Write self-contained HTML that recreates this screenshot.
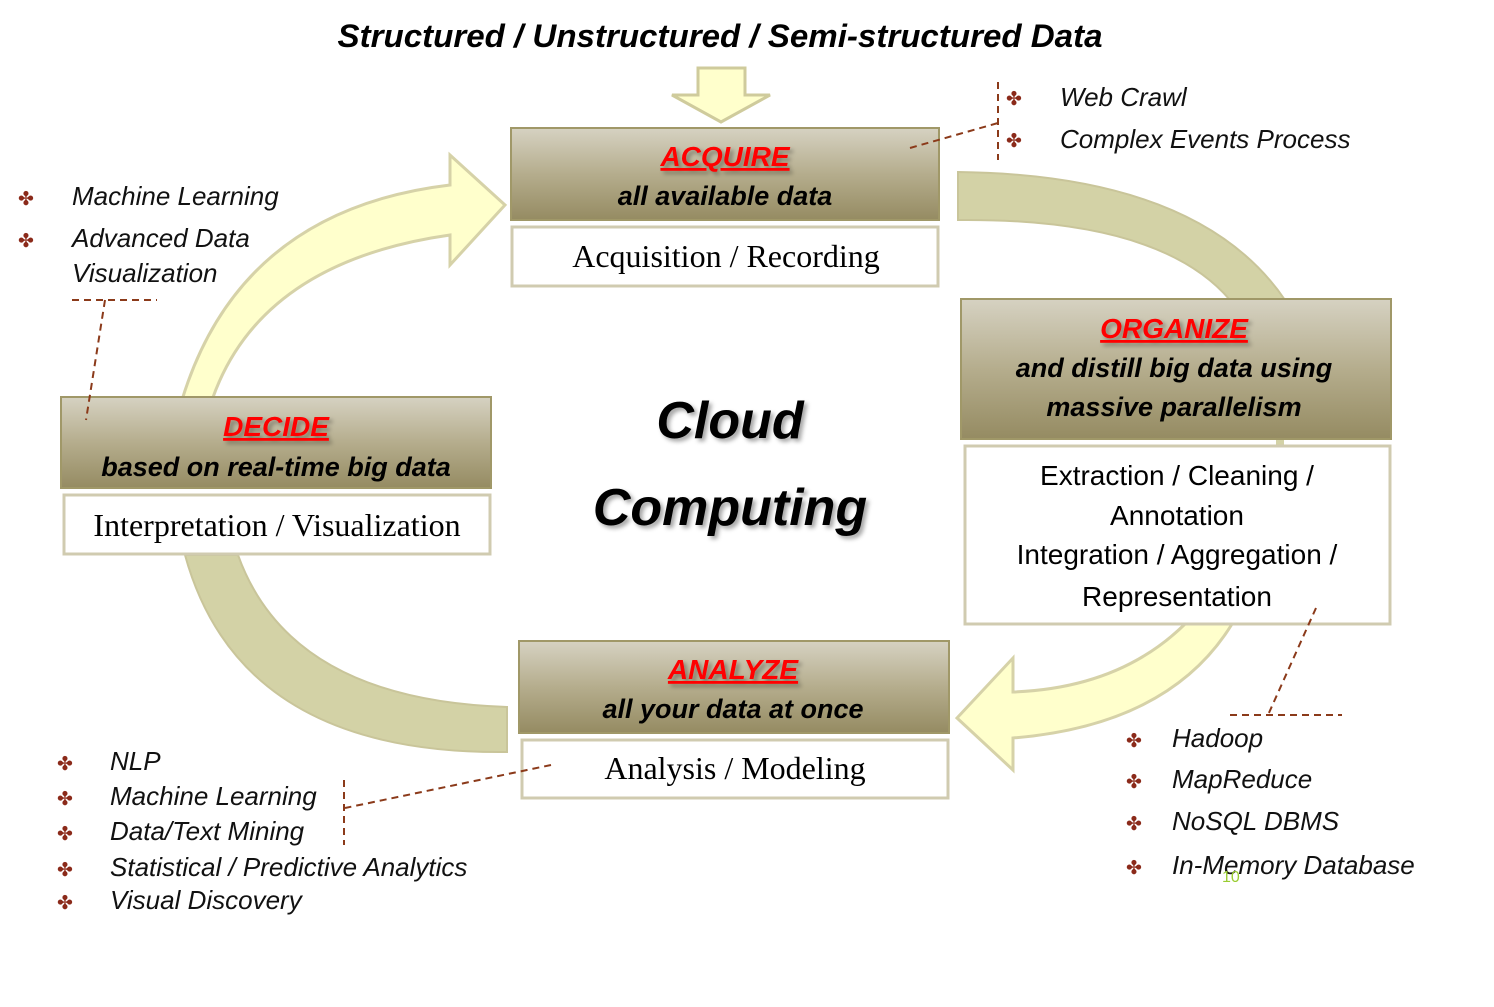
<!DOCTYPE html>
<html><head><meta charset="utf-8"><style>
html,body{margin:0;padding:0;background:#fff;}
svg{display:block;}
text{font-family:"Liberation Sans",sans-serif;}
.it{font-style:italic;font-size:26px;fill:#111;}
.hd{font-style:italic;font-weight:bold;font-size:27px;fill:#000;}
.red{font-style:italic;font-weight:bold;font-size:28px;fill:#ff0000;text-decoration:underline;}
.ser{font-family:"Liberation Serif",serif;font-size:32px;fill:#000;}
.cal{font-size:28px;fill:#000;}
.bul{font-size:19px;fill:#8b2a1a;}
.dash{stroke:#8b3a1a;stroke-width:2;stroke-dasharray:7,5;fill:none;}
</style></head><body>
<svg width="1494" height="1007" viewBox="0 0 1494 1007" xmlns="http://www.w3.org/2000/svg">
<defs>
<linearGradient id="g" x1="0" y1="0" x2="0" y2="1">
<stop offset="0" stop-color="#d6d2c2"/><stop offset="0.5" stop-color="#b5ad8d"/><stop offset="1" stop-color="#958b62"/>
</linearGradient>
<filter id="sh" x="-10%" y="-10%" width="130%" height="130%"><feDropShadow dx="3" dy="3" stdDeviation="2" flood-color="#000" flood-opacity="0.35"/></filter>
</defs>

<text x="720" y="47" text-anchor="middle" font-size="32" font-weight="bold" font-style="italic" textLength="765" lengthAdjust="spacingAndGlyphs">Structured  / Unstructured  / Semi-structured  Data</text>
<path d="M698,68 L745,68 L745,95 L770,95 L721,122 L672,95 L698,95 Z" fill="#ffffcc" stroke="#cfcb9c" stroke-width="3"/>

<path d="M958,172 Q1200,175 1285,300 L1230,300 Q1160,218 958,220 Z" fill="#d3d2a6" stroke="#c9c59a" stroke-width="2"/>
<path d="M185,555 Q240,755 507,752 L507,707 Q290,700 238,555 Z" fill="#d3d2a6" stroke="#c9c59a" stroke-width="2"/>
<path d="M182,400 Q240,210 450,185 L450,155 L505,205 L450,265 L450,235 Q260,262 212,400 Z" fill="#ffffcc" stroke="#d6d2a8" stroke-width="3"/>
<path d="M1185,624 Q1120,688 1013,692 L1013,658 L957,718 L1013,770 L1013,738 Q1170,725 1232,624 Z" fill="#ffffcc" stroke="#d6d2a8" stroke-width="3"/>
<rect x="1276" y="436" width="8" height="12" fill="#d3d2a6"/>

<rect x="511" y="128" width="428" height="92" fill="url(#g)" stroke="#a09868" stroke-width="2"/>
<text x="725" y="166" text-anchor="middle" class="red" filter="url(#sh)">ACQUIRE</text>
<text x="725" y="205" text-anchor="middle" class="hd">all available data</text>
<rect x="512" y="227" width="426" height="59" fill="#fff" stroke="#d0cbb0" stroke-width="3"/>
<text x="726" y="267" text-anchor="middle" class="ser">Acquisition  / Recording</text>

<rect x="961" y="299" width="430" height="140" fill="url(#g)" stroke="#a09868" stroke-width="2"/>
<text x="1174" y="338" text-anchor="middle" class="red" filter="url(#sh)">ORGANIZE</text>
<text x="1174" y="377" text-anchor="middle" class="hd">and distill big data using</text>
<text x="1174" y="416" text-anchor="middle" class="hd">massive parallelism</text>
<rect x="965" y="446" width="425" height="178" fill="#fff" stroke="#d0cbb0" stroke-width="3"/>
<text x="1177" y="485" text-anchor="middle" class="cal">Extraction / Cleaning /</text>
<text x="1177" y="525" text-anchor="middle" class="cal">Annotation</text>
<text x="1177" y="564" text-anchor="middle" class="cal">Integration / Aggregation /</text>
<text x="1177" y="606" text-anchor="middle" class="cal">Representation</text>

<rect x="61" y="397" width="430" height="91" fill="url(#g)" stroke="#a09868" stroke-width="2"/>
<text x="276" y="436" text-anchor="middle" class="red" filter="url(#sh)">DECIDE</text>
<text x="276" y="476" text-anchor="middle" class="hd">based on real-time big data</text>
<rect x="64" y="495" width="426" height="59" fill="#fff" stroke="#d0cbb0" stroke-width="3"/>
<text x="277" y="536" text-anchor="middle" class="ser">Interpretation  / Visualization</text>

<rect x="519" y="641" width="430" height="92" fill="url(#g)" stroke="#a09868" stroke-width="2"/>
<text x="733" y="679" text-anchor="middle" class="red" filter="url(#sh)">ANALYZE</text>
<text x="733" y="718" text-anchor="middle" class="hd">all your data at once</text>
<rect x="522" y="740" width="426" height="58" fill="#fff" stroke="#d0cbb0" stroke-width="3"/>
<text x="735" y="779" text-anchor="middle" class="ser">Analysis  / Modeling</text>

<g filter="url(#sh)">
<text x="730" y="438" text-anchor="middle" font-size="52" font-weight="bold" font-style="italic">Cloud</text>
<text x="730" y="525" text-anchor="middle" font-size="52" font-weight="bold" font-style="italic">Computing</text>
</g>

<path class="dash" d="M910,148 L998,123 M998,82 L998,160"/>
<path class="dash" d="M72,300 L157,300 M105,300 L86,420"/>
<path class="dash" d="M1316,608 L1268,715 M1230,715 L1342,715"/>
<path class="dash" d="M551,765 L345,808 M344,780 L344,845"/>

<text x="1006" y="105" class="bul">✤</text><text x="1060" y="106" class="it">Web Crawl</text>
<text x="1006" y="147" class="bul">✤</text><text x="1060" y="148" class="it">Complex Events Process</text>
<text x="18" y="205" class="bul">✤</text><text x="72" y="205" class="it">Machine Learning</text>
<text x="18" y="247" class="bul">✤</text><text x="72" y="247" class="it">Advanced Data</text>
<text x="72" y="282" class="it">Visualization</text>
<text x="57" y="770" class="bul">✤</text><text x="110" y="770" class="it">NLP</text>
<text x="57" y="805" class="bul">✤</text><text x="110" y="805" class="it">Machine Learning</text>
<text x="57" y="840" class="bul">✤</text><text x="110" y="840" class="it">Data/Text Mining</text>
<text x="57" y="876" class="bul">✤</text><text x="110" y="876" class="it">Statistical / Predictive Analytics</text>
<text x="57" y="909" class="bul">✤</text><text x="110" y="909" class="it">Visual Discovery</text>
<text x="1126" y="747" class="bul">✤</text><text x="1172" y="747" class="it">Hadoop</text>
<text x="1126" y="788" class="bul">✤</text><text x="1172" y="788" class="it">MapReduce</text>
<text x="1126" y="830" class="bul">✤</text><text x="1172" y="830" class="it">NoSQL DBMS</text>
<text x="1126" y="874" class="bul">✤</text><text x="1172" y="874" class="it">In-Memory Database</text>
<text x="1222" y="882" font-size="16" fill="#9acd32">10</text>
</svg>
</body></html>
